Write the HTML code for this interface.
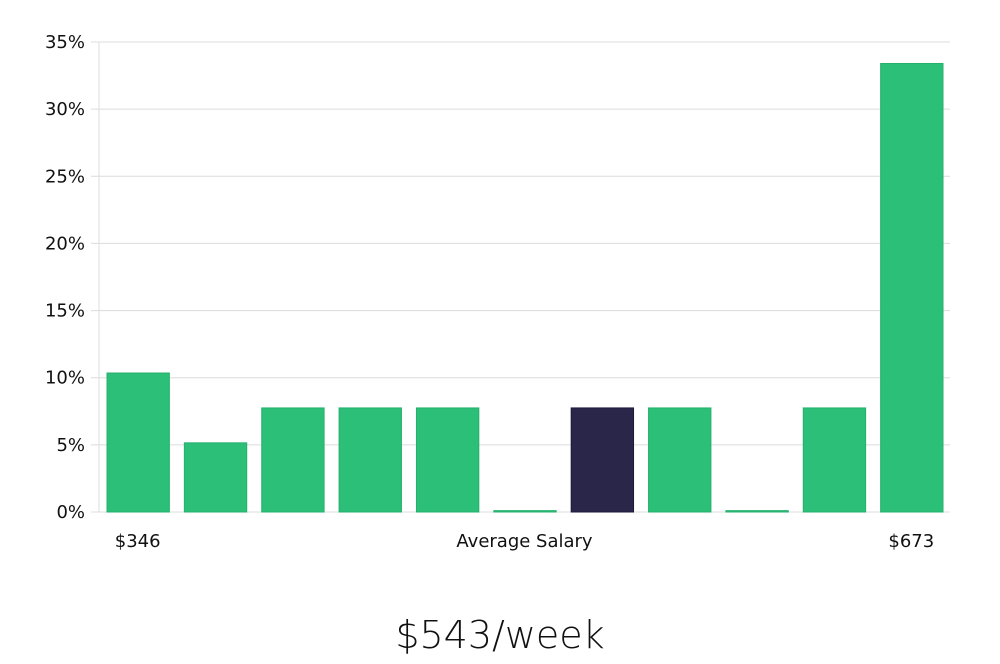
<!DOCTYPE html>
<html><head><meta charset="utf-8"><style>
body{margin:0;background:#fff;width:1000px;height:660px;overflow:hidden;font-family:"DejaVu Sans","Liberation Sans",sans-serif}
</style></head><body>
<svg width="1000" height="660">
<g id="grid"></g><g id="bars"></g><g id="labels"></g>
<text x="500" y="648" text-anchor="middle" font-size="38" fill="#111" font-family="'DejaVu Sans','Liberation Sans',sans-serif" font-weight="200">$543/week</text>
</svg>
<script>
const categories=["$346","b2","b3","b4","b5","b6","avg","b8","b9","b10","$673"];
const values=[10.35,5.15,7.75,7.75,7.75,0.1,7.75,7.75,0.1,7.75,33.4];
const highlight=[false,false,false,false,false,false,true,false,false,false,false];
const yTicks=[0,5,10,15,20,25,30,35];
const ns="http://www.w3.org/2000/svg";
const X0=99,X1=950,Y0=512,Y1=42,YMAX=35;
const y=v=>Y0-(v/YMAX)*(Y0-Y1);
const slot=(X1-X0)/categories.length;
const x=i=>X0+i*slot;
function mk(t,a,p){const e=document.createElementNS(ns,t);for(const k in a)e.setAttribute(k,a[k]);p.appendChild(e);return e;}
const g=document.getElementById('grid'),b=document.getElementById('bars'),l=document.getElementById('labels');
mk('line',{x1:X0,x2:X0,y1:Y1,y2:Y0,stroke:'#ddd'},g);
yTicks.forEach(t=>{
 const ln=mk('line',{x1:X0-8,x2:X1,y1:y(t),y2:y(t),stroke:'#dcdcdc'},g);
 
 
 const tx=mk('text',{x:85,y:y(t)+6,'text-anchor':'end','font-size':18,fill:'#111'},l);
 tx.textContent=t+'%';
 
 
});
values.forEach((v,i)=>{
 const r=mk('rect',{x:x(i)+8,y:y(v),width:slot-15,height:Math.max(1,Y0-y(v)),fill:highlight[i]?'#29264a':'#2bbf78',stroke:highlight[i]?'#1d1a3a':'#25b06e','stroke-width':1},b);
 
 
});
[[0,categories[0]],[10,categories[10]]].forEach(([i,s])=>{
 const tx=mk('text',{x:x(i)+slot/2,y:547,'text-anchor':'middle','font-size':18,fill:'#111'},l);
 tx.textContent=s;
 
 
});
const at=mk('text',{x:(X0+X1)/2,y:547,'text-anchor':'middle','font-size':18,fill:'#111'},l);
at.textContent='Average Salary';


</script>
</body></html>
